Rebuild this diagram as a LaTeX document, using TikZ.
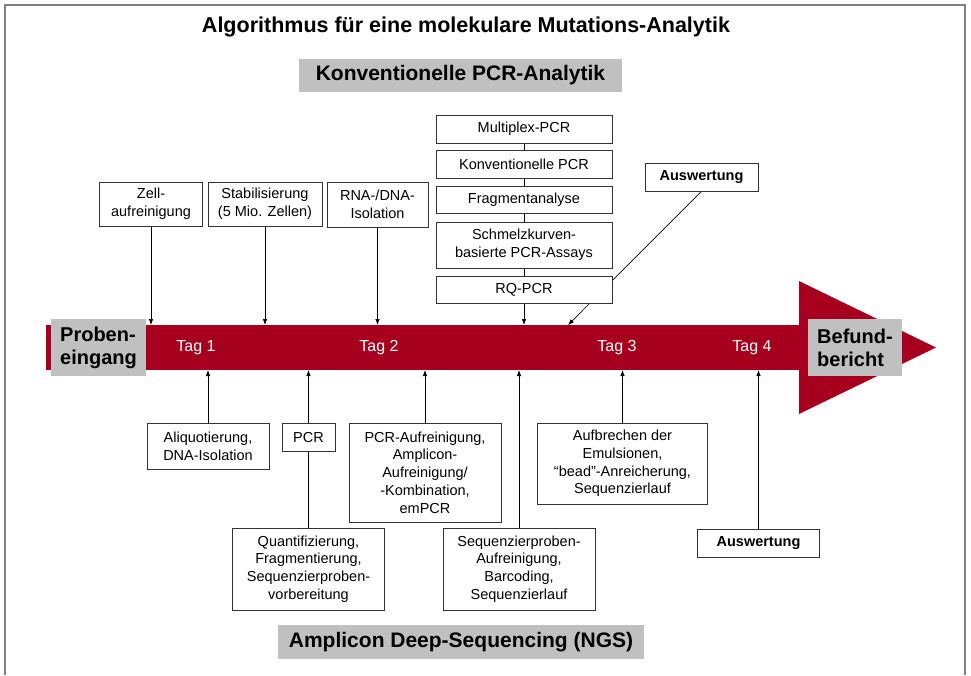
\documentclass[tikz,border=0pt]{standalone}
\usepackage{fontspec}
\setmainfont{Liberation Sans}
\usetikzlibrary{arrows.meta,backgrounds}
\definecolor{barRed}{RGB}{166,0,30}
\definecolor{labelGray}{RGB}{192,192,192}
\definecolor{frameGray}{RGB}{128,128,128}
\tikzstyle{pixelGrid} = [x=1pt, y=-1pt]
\tikzstyle{stepBox} = [draw=black!80, fill=white, line width=.8pt, align=center, inner sep=0pt, font=\fontsize{14.5}{17.7}\selectfont]
\tikzstyle{resultBox} = [stepBox, font=\fontsize{14.5}{17.7}\selectfont\bfseries]
\tikzstyle{grayLabel} = [fill=labelGray, inner sep=0pt, font=\fontsize{20}{23}\selectfont\bfseries]
\tikzstyle{sectionLabel} = [grayLabel, font=\fontsize{21}{24}\selectfont\bfseries]
\tikzstyle{dayLabel} = [text=white, font=\fontsize{16}{19}\selectfont]
\tikzstyle{titleText} = [font=\fontsize{21.5}{25}\selectfont\bfseries]
\tikzstyle{linkArrow} = [-{Latex[length=6pt,width=4.5pt]}, line width=.7pt]
\newcommand{\stepNode}[6][stepBox]{\node [#1, minimum width=#5, minimum height=#6] (#2) at (#3) {#4};}

\begin{document}
\begin{tikzpicture}[pixelGrid]
\useasboundingbox (0,0) rectangle (971,675);
\draw [frameGray, line width=2pt] (5,675) -- (5,5) -- (965,5) -- (965,675);
\node [titleText] (title) at (466,27) {Algorithmus für eine molekulare Mutations-Analytik};
\node [sectionLabel, minimum width=323, minimum height=33] (pcrTitle) at (460.5,75.5) {Konventionelle PCR-Analytik};
\node [sectionLabel, minimum width=366, minimum height=34] (ngsTitle) at (461,642) {Amplicon Deep-Sequencing (NGS)};
% timeline
\fill [barRed] (46,325) rectangle (802,370);
\fill [barRed] (799,281) -- (936,347.5) -- (799,414) -- cycle;
\coordinate (barTop) at (0,325);
\coordinate (barBottom) at (0,370);
\coordinate (auswTopEnd) at (568,325);
\node [grayLabel, minimum width=95, minimum height=57, align=left] (proben) at (98.5,347.5) {Proben-\\eingang};
\node [grayLabel, minimum width=94, minimum height=57, align=left] (befund) at (855,347.5) {Befund-\\bericht};
\foreach \x/\day in {196/1,379/2,617/3,752/4} \node [dayLabel] (tag\day) at (\x,348) {Tag \day};
% upper steps
\stepNode{zell}{151,204}{Zell-\\aufreinigung}{103}{44}
\stepNode{stab}{265,204}{Stabilisierung\\(5 Mio. Zellen)}{114}{44}
\stepNode{rna}{377.5,204.5}{RNA-/DNA-\\Isolation}{101}{45}
\stepNode{multiplex}{524,129}{Multiplex-PCR}{176}{28}
\stepNode{konv}{524,164}{Konventionelle PCR}{176}{28}
\stepNode{fragment}{524,199.5}{Fragmentanalyse}{176}{27}
\stepNode{schmelz}{524,245}{Schmelzkurven-\\basierte PCR-Assays}{176}{46}
\stepNode{rq}{524,289.5}{RQ-PCR}{176}{27}
\stepNode[resultBox]{auswTop}{701.5,177}{Auswertung}{113}{28}
% lower steps
\stepNode{aliquot}{208,446}{Aliquotierung,\\DNA-Isolation}{122}{46}
\stepNode{pcr}{308.5,437}{PCR}{53}{28}
\stepNode{pcrAuf}{425,472.5}{PCR-Aufreinigung,\\Amplicon-\\Aufreinigung/\\-Kombination,\\emPCR}{152}{99}
\stepNode{aufbrechen}{622.5,463.5}{Aufbrechen der\\Emulsionen,\\“bead”-Anreicherung,\\Sequenzierlauf}{170}{81}
\stepNode{quant}{308.5,569}{Quantifizierung,\\Fragmentierung,\\Sequenzierproben-\\vorbereitung}{152}{82}
\stepNode{seqAuf}{519,569}{Sequenzierproben-\\Aufreinigung,\\Barcoding,\\Sequenzierlauf}{152}{82}
\stepNode[resultBox]{auswBottom}{758.5,543}{Auswertung}{122}{28}
% connectors behind the boxes
\begin{scope}[on background layer]
  \foreach \boxName in {zell,stab,rna,multiplex}
    \draw [linkArrow] (\boxName.south) -- (\boxName.south |- barTop);
  \foreach \boxName in {aliquot,quant,pcrAuf,seqAuf,aufbrechen,auswBottom}
    \draw [linkArrow] (\boxName.north) -- (\boxName.north |- barBottom);
  \draw [linkArrow] (auswTop.south) -- (auswTopEnd);
\end{scope}
\end{tikzpicture}
\end{document}
